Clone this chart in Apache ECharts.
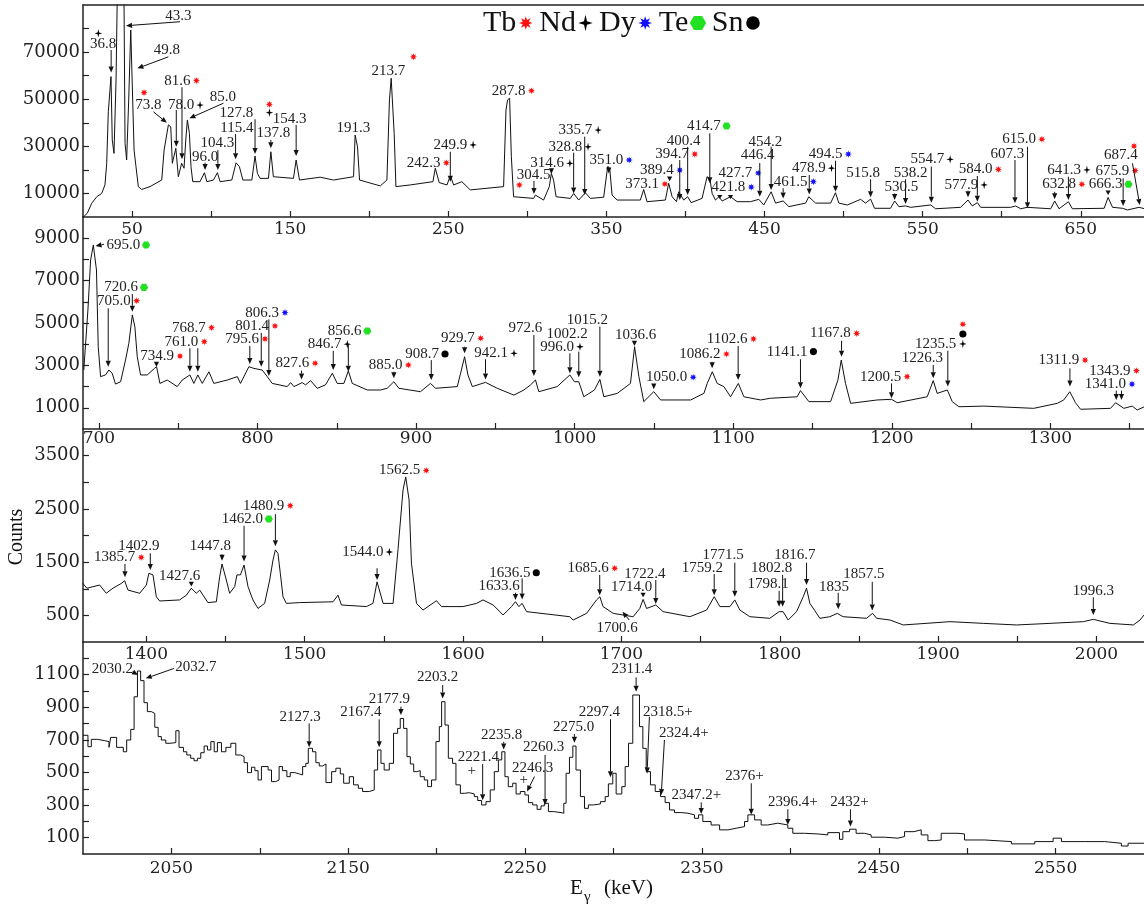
<!DOCTYPE html>
<html lang="en">
<head>
<meta charset="UTF-8">
<title>gamma spectrum</title>
<script src="https://cdn.jsdelivr.net/npm/echarts@6/dist/echarts.min.js"></script>
<style>
  html, body { margin: 0; padding: 0; background: #fff; }
  #chart { width: 1144px; height: 905px; }
</style>
</head>
<body>
<div id="chart"></div>
<script>
// spectrum readings, [E (keV), counts]
var spec1 = [[19.2,0],[21.7,1570],[24.5,5800],[27.7,8600],[30.8,10000],[32.9,13600],[34,22800],[35,44700],[36.7,59600],[37.5,32700],[38.6,27000],[39.9,58200],[40.7,95000],[44.9,95000],[45.6,31300],[46.6,24200],[47.9,49700],[49.2,79400],[50.4,79400],[51.3,28400],[52.5,21400],[54,12900],[56.1,11700],[61.4,12900],[68.8,15700],[70.3,28400],[73,39100],[74.5,38300],[75.5,22800],[77.7,29200],[79.3,17100],[81.4,22800],[82.9,20700],[84,32700],[85,41200],[86.3,35500],[87.3,21400],[88.4,15000],[93,15000],[95.8,18800],[97.3,15000],[101.5,15700],[104,18800],[105.7,15000],[113.1,15700],[115.8,23000],[117.9,21400],[120.1,15700],[125.8,15700],[127.8,25900],[129.3,18500],[131,16400],[136.3,16400],[137.8,27700],[139.4,17100],[152.1,16400],[153.8,24200],[155.9,15700],[169,16900],[177.4,15700],[190.1,17100],[191.1,34800],[192.6,29800],[193.9,15700],[207,13200],
  [211.2,15700],[212.8,49700],[213.9,58900],[215,58200],[215.8,35500],[216.9,12900],[225.9,13600],[240.3,15000],[241.8,20700],[242.8,20000],[244.3,14600],[249.2,13600],[251.3,17500],[253.4,13600],[258.6,15000],[263.9,11500],[285,12900],[286.5,45400],[287.5,49700],[288.8,50400],[289.9,25600],[291.3,8600],[304,7900],[305.1,9300],[310.3,7200],[313.9,12900],[315.2,18500],[316.6,15700],[318.2,8600],[327.2,7900],[329.3,10000],[332.5,7200],[336.7,10300],[339.9,7900],[348.3,8400],[350.8,21400],[352.1,20700],[353.6,9300],[356.8,7200],[371.5,7200],[373.6,11700],[375.7,6500],[387.3,7200],[389.4,14300],[391.6,8600],[394.3,6500],[395.7,10700],[398.9,7200],[401.4,8600],[403.6,6100],[410.5,7900],[413.7,17100],[415.4,16400],[416.9,10000],[419,7200],[421.1,8600],[423.2,6800],[428.5,8600],[432.7,6500],[441.1,6500],
  [446.4,7500],[449.5,5100],[454.2,10700],[457,5900],[461.8,6800],[465.4,4400],[476,5900],[478,8600],[480.2,7200],[482.3,5900],[491.8,5900],[494.9,10300],[497,5900],[502.3,5100],[510.8,7500],[513.9,5900],[517.1,7600],[519.6,3700],[529.7,3700],[532.3,6800],[535,4400],[539.2,4700],[542.4,4100],[555.1,5100],[558.2,3500],[574,4100],[578.7,7200],[581.4,4700],[584.6,6100],[586.7,4100],[605.7,4100],[608.8,4700],[612,3500],[616.2,4100],[631,3500],[633.5,6800],[636.3,3500],[642.2,6500],[644.7,3500],[664.8,3700],[667.3,8300],[670.1,4100],[676.4,3700],[679.6,3000],[686.9,4100],[690.5,3500]];

var spec2 = [[690.5,2780],[693.1,5610],[694.8,7970],[696.5,8680],[697.7,8680],[698.5,7500],[699.6,3880],[701.1,2470],[704.2,2550],[706.3,2780],[708.4,2630],[710.5,2120],[713.7,2230],[716.8,3250],[718.9,4040],[721.1,5380],[722.7,4820],[724.2,3410],[726.3,2550],[730.5,2550],[735.1,2860],[736.4,2940],[738.5,2150],[743.1,2310],[749.4,2000],[752.6,2310],[757.4,2550],[759.9,2150],[762.4,2550],[765.2,2150],[769.4,2700],[772.5,2150],[781,2310],[787.3,2470],[789.3,2150],[794.6,2940],[797.7,2860],[803,2780],[806.2,2470],[809.3,2150],[818.8,2000],[820.9,2190],[823,2000],[828.2,2190],[830.3,2080],[833.5,2280],[837.7,1920],[842.9,2080],[847.2,2630],[850.3,2150],[854.5,2150],[857.3,2740],[859.8,2150],[869.2,1840],[877.6,1840],
  [881.8,1920],[886,2230],[889.2,1920],[902.8,1760],[909.1,2150],[912.3,1920],[926,2000],[928.1,2630],[930.6,3410],[932.7,2550],[935.5,2000],[943.8,2200],[951.2,1920],[961.7,1600],[968,1840],[972.2,2080],[975.3,2310],[977.4,1760],[989,2000],[997,2550],[999.9,2230],[1002.6,2230],[1005.8,1520],[1012.5,1840],[1015.9,2340],[1018.4,1520],[1026.9,1680],[1035.2,2150],[1037.8,3880],[1040.5,2470],[1043.6,1290],[1049.9,1760],[1054.2,1370],[1073.1,1370],[1081.5,1680],[1083.6,2150],[1086.8,2700],[1089.9,2150],[1094.1,2000],[1098.3,1520],[1103.2,2150],[1106.7,1520],[1117.2,1370],
  [1123.5,1450],[1140.3,1520],[1142.4,1810],[1147.7,1290],[1161.4,1290],[1166,2310],[1168.1,3250],[1170.8,2150],[1174,1210],[1190.8,1370],[1199.8,1400],[1203.4,1240],[1222.3,1520],[1226.1,2280],[1228.6,1680],[1235,1840],[1238.1,1290],[1242.3,1050],[1258,1080],[1289.5,975],[1304.3,1210],[1308.4,1370],[1312.2,1760],[1315.8,1240],[1319,930],[1337.9,975],[1341.1,1240],[1346.3,975],[1351.6,1080],[1354.7,896],[1359.3,1050]];

var spec3 = [[1359.9,1100],[1362.5,1010],[1370.5,1070],[1374.7,915],[1378.9,1010],[1384.2,1100],[1386.3,1150],[1388.4,975],[1395.8,915],[1400,1070],[1401.6,1290],[1404.2,1260],[1406.3,850],[1408.4,770],[1421,790],[1425.3,880],[1428.4,1010],[1431.6,915],[1433.7,975],[1435.8,880],[1438.9,740],[1444.2,755],[1446.3,1225],[1447.8,1465],[1450.5,1165],[1452.6,915],[1455.8,1040],[1457.2,1260],[1459.4,1260],[1461.7,1445],[1464.2,1040],[1467.3,790],[1470.5,630],[1474.7,725],[1477.9,1165],[1480,1540],[1481.5,1730],[1483.1,1665],[1484.6,1290],[1486.3,850],[1488.4,725],[1496.8,740],[1517.9,755],[1521,880],[1523.2,695],[1539,665],[1543.1,725],[1545.7,1130],
  [1549.5,725],[1555.8,725],[1558.9,1730],[1562.1,2855],[1563.8,3100],[1565.9,2670],[1567.4,1480],[1570.6,725],[1574.7,600],[1583.2,775],[1586.4,665],[1600,665],[1608.5,725],[1612.6,790],[1619,695],[1625.3,507],[1630.6,665],[1633.1,757],[1635.2,665],[1637.3,725],[1640.1,570],[1667.4,475],[1669.5,413],[1678,538],[1684.3,790],[1686.4,850],[1688.4,665],[1694.8,538],[1707.4,475],[1711.6,630],[1713.7,800],[1715.9,630],[1721.7,695],[1726.3,570],[1743.2,475],[1753.8,600],[1758.6,850],[1762.2,665],[1768.5,665],[1771.6,790],[1774.8,600],[1781.1,475],
  [1793.7,445],[1799.6,570],[1802.1,570],[1805.3,413],[1810.6,570],[1814.8,850],[1816.9,1010],[1819,725],[1822.2,585],[1825.3,445],[1831.6,475],[1836.3,538],[1840,475],[1854.8,445],[1858.6,538],[1861.2,445],[1869.6,413],[1878,320],[1907.5,382],[1928.5,350],[1949.6,320],[1970.6,350],[1991.7,382],[1998,425],[2008.5,350],[2023.3,320],[2027.5,413],[2030,507]];

var spec4 = [[2000,728],[2002.8,658],[2004.7,703],[2008.1,695],[2012.3,689],[2014.7,654],[2015.7,715],[2019,654],[2022.8,627],[2024.7,699],[2027,764],[2028.9,964],[2030.8,1122],[2032.6,1063],[2034.5,928],[2036.4,873],[2038.7,862],[2040.6,777],[2042.5,720],[2044.3,699],[2046.8,679],[2049.2,683],[2052.5,756],[2054.3,654],[2056.8,627],[2058.7,607],[2060.9,587],[2062.8,572],[2064.7,587],[2066.6,621],[2068.5,662],[2070.4,638],[2072.3,689],[2074.2,627],[2076,683],[2078.3,627],[2080.8,654],[2083.6,679],[2086.4,607],[2089.2,597],[2091.1,560],[2093,499],[2095.3,532],[2097.2,511],[2099,454],[2100.9,536],[2104.7,515],[2106.6,444],[2109,454],[2110.9,536],[2112.8,511],[2115.3,474],[2117.2,499],[2119.8,491],[2122.3,485],[2124.2,536],[2126,556],[2127.4,648],[2129.8,627],[2131.7,560],[2133.6,540],[2135.5,552],[2137.4,438],[2140.6,505],[2143,526],[2145.5,491],[2147.4,434],[2150.6,474],[2153,424],[2155.7,403],[2158.1,383],[2161.9,393],[2164.7,515],[2166.6,638],[2168.5,556],[2170.3,515],[2173.2,556],[2175.6,740],[2177.9,770],[2179.4,831],[2181.3,770],[2183.2,597],[2185.1,552],[2187,505],[2188.8,511],[2190.7,474],[2193,454],[2194.9,413],[2197.1,454],[2199.6,689],[2201.5,781],[2202.8,934],[2204.7,791],[2206.6,587],[2209,556],[2210.9,424],[2213.4,372],[2215.6,376],[2218.5,368],[2221.3,352],[2223.2,328],[2225.4,301],[2227.9,321],[2230.3,393],[2232.6,505],[2234.9,577],[2236.8,627],[2238.6,474],[2240.5,413],[2243,434],[2244.9,368],[2247.3,383],[2249.9,362],[2251.9,315],[2254.3,301],[2256.8,274],[2259,295],[2260.9,311],[2263.2,260],[2266.2,254],[2270.3,250],[2271.9,311],[2273.2,495],[2275.1,593],[2277,662],[2278.8,515],[2281.3,352],[2283.6,280],[2285.8,301],[2288.8,307],[2292.6,321],[2295.3,352],[2297.1,430],[2299.6,495],[2301.5,368],[2304.7,413],[2306.6,536],[2308.5,679],[2310.9,975],[2314.7,781],[2316.6,648],[2318.5,505],[2320.9,424],[2323.6,383],[2326.6,352],[2329.2,315],[2331.7,270],[2334.5,254],[2338.3,250],[2342.1,240],[2345.8,219],[2348.1,240],[2350.5,199],[2355.2,178],[2360,148],[2364.7,158],[2369.4,168],[2374.1,199],[2376,240],[2379.8,209],[2383.5,178],[2387.2,189],[2392.9,178],[2398.6,158],[2401.4,127],[2408,123],[2415.5,117],[2421.2,131],[2427.8,90],[2429.7,137],[2433.5,152],[2437.2,127],[2442,117],[2445.7,103],[2453.3,97],[2460.8,107],[2464.6,137],[2469.9,148],[2474,117],[2477.8,82],[2481.6,86],[2485.3,127],[2494.8,123],[2498.5,86],[2509.9,76],[2525,62],[2538.2,76],[2548.6,97],[2553.3,76],[2566.5,76],[2577.8,66],[2587.2,49],[2591,66],[2600.8,76]];

// peak labels: [text, markers after text, label E, label counts, arrow tail E, tail counts, arrow tip E, tip counts]
// markers: t = Tb, n = Nd, y = Dy, e = Te, s = Sn
var peaks1 = [
  ['36.8','',31.8,73300,36.8,70900,36.8,61300],
  ['43.3','',79.3,85500,80.4,82900,46.2,81200],
  ['49.8','',72,70900,73,68000,53.4,63100],
  ['73.8','',60.3,47500,63.5,44700,72,40000],
  ['78.0','n',81,47500,78,45400,78,29800],
  ['81.6','t',78.7,57900,81.6,55100,81.6,24500],
  ['85.0','',107.4,51100,107.8,48300,86.3,41900],
  ['96.0','',96.2,25600,96.2,23000,96.2,20000],
  ['104.3','',104,31300,104.3,28400,104.3,20000],
  ['115.4','',116.3,37700,115.5,35200,115.5,24500],
  ['127.8','',116,44300,127.8,41500,127.8,26700],
  ['137.8','',139.4,35500,137.8,32700,137.8,29200],
  ['154.3','',149.6,41500,153.8,39100,153.8,25900],
  ['191.3','',190,37900,null,null,null,null],
  ['213.7','',212.2,62100,null,null,null,null],
  ['242.3','t',234.4,23000,null,null,null,null],
  ['249.9','n',251.3,30600,251.3,27700,251.3,15000],
  ['287.8','t',288.2,53600,null,null,null,null],
  ['304.5','',304,17800,304.2,15300,304.2,9800],
  ['314.6','n',312.5,22800,315.2,20700,315.2,18300],
  ['328.8','n',324,29800,329.3,27300,329.3,10000],
  ['335.7','n',330.4,36900,336.3,34100,336.3,9300],
  ['351.0','y',350,24200,351.5,21400,351.5,18500],
  ['373.1','t',372.6,14000,null,null,null,null],
  ['389.4','y',382,19900,390,17200,390,15200],
  ['394.7','t',391.5,26700,396.4,24200,396.4,7200],
  ['400.4','',398.9,32400,401.4,29800,401.4,9300],
  ['414.7','e',411.6,38600,415.4,35500,415.4,14300],
  ['421.8','y',427.2,12700,421.7,9300,421.7,7600],
  ['427.7','y',431.6,18700,428.5,9300,428.5,7600],
  ['446.4','',445.6,26300,447,22900,447,8600],
  ['454.2','',450.6,32000,454.2,29800,454.2,11500],
  ['461.5','y',466.5,15000,461.8,12200,461.8,7900],
  ['478.9','n',478,20700,478.3,17800,478.3,9600],
  ['494.5','y',488.6,26700,494.9,23900,494.9,10700],
  ['515.8','',512.4,18800,517.1,16000,517.1,8400],
  ['530.5','',536.5,12600,532.3,10000,532.3,7200],
  ['538.2','',542.4,18800,539.2,16000,539.2,5500],
  ['554.7','n',553,24500,555.5,21400,555.5,6100],
  ['577.9','n',574.5,13600,578.7,11200,578.7,8400],
  ['584.0','t',583.5,20200,584.6,17400,584.6,6500],
  ['607.3','',603.6,26700,608.4,24200,608.4,5800],
  ['615.0','t',611,33000,616.3,29800,616.3,3700],
  ['632.8','t',636.3,13900,633.5,10700,633.5,7500],
  ['641.3','n',639.5,20000,642.2,17100,642.2,7200],
  ['666.3','e',665.8,13900,667.3,11200,667.3,9300],
  ['675.9','t',670,19700,676.8,16400,676.8,4700],
  ['687.4','',675.3,26300,682.7,22800,687.3,5100]
];
var peaks2 = [
  ['695.0','e',715.4,8680,703.2,8710,697.9,8630],
  ['720.6','e',714.1,6680,721.1,6370,721.1,5530],
  ['705.0','t',709.5,6050,705.9,5690,705.9,2940],
  ['734.9','t',736.8,3440,736.3,3170,736.3,2940],
  ['761.0','t',752.1,4120,757.4,3810,757.4,2700],
  ['768.7','t',756.7,4780,762.4,3810,762.4,2700],
  ['795.6','t',790.4,4250,795.2,3920,795.2,3070],
  ['801.4','t',796.7,4860,802.4,4540,802.4,2940],
  ['806.3','y',803,5490,807.2,5170,807.2,2500],
  ['827.6','t',822,3100,827.8,2750,827.8,2340],
  ['846.7','n',842.3,4000,847.8,3690,847.8,2780],
  ['856.6','e',854.9,4620,857.3,3960,857.3,2700],
  ['885.0','t',880.8,3020,886,2700,886,2390],
  ['908.7','s',903.9,3540,909.6,3250,909.6,2310],
  ['929.7','t',926.4,4280,930.6,3880,930.6,3570],
  ['942.1','n',947.4,3570,943.8,3290,943.8,2340],
  ['972.6','',969,4750,974.3,4430,974.3,2500],
  ['1002.2','',995.3,4480,1002.6,3650,1002.6,2440],
  ['996.0','n',989,3880,997,3570,997,2630],
  ['1015.2','',1008,5140,1015.9,4830,1015.9,2470],
  ['1036.6','',1038.4,4430,1037.7,4160,1037.7,3920],
  ['1050.0','y',1058,2440,1049.9,2150,1049.9,1870],
  ['1086.2','t',1079,3540,1086.7,3170,1086.7,2860],
  ['1102.6','t',1096.2,4250,1103.1,3920,1103.1,2310],
  ['1141.1','s',1134,3650,1142.4,3290,1142.4,1920],
  ['1167.8','t',1161.3,4510,1168.3,4160,1168.3,3410],
  ['1200.5','t',1192.9,2470,1199.8,2150,1199.8,1450],
  ['1226.3','',1219.2,3360,1226.1,3020,1226.1,2390],
  ['1235.5','',1227.6,4000,1235.3,3690,1235.3,2000],
  ['1311.9','t',1305.3,3250,1312.3,2860,1312.3,2000],
  ['1343.9','t',1337.5,2750,1344.8,1810,1344.8,1370],
  ['1341.0','y',1334.7,2120,1341.5,1810,1341.5,1370]
];
var peaks3 = [
  ['1385.7','t',1380,1590,1386.5,1465,1386.5,1215],
  ['1402.9','',1395.3,1800,1402.5,1665,1402.5,1350],
  ['1427.6','',1421,1240,1428.4,1130,1428.4,1040],
  ['1447.8','',1440.4,1800,1447.8,1650,1447.8,1525],
  ['1462.0','e',1460.6,2310,1461.7,2180,1461.7,1510],
  ['1480.9','t',1474.1,2560,1481.5,2400,1481.5,1800],
  ['1544.0','n',1536.7,1690,1545.7,1385,1545.7,1165],
  ['1562.5','t',1560,3220,null,null,null,null],
  ['1636.5','s',1629.5,1300,1637.3,1195,1637.3,800],
  ['1633.6','',1622.7,1050,1633.1,925,1633.1,790],
  ['1685.6','t',1679,1385,1686.3,1260,1686.3,880],
  ['1700.6','',1697.3,257,1704.9,413,1700.7,570],
  ['1714.0','',1706.4,1040,1713.7,925,1713.7,840],
  ['1722.4','',1714.8,1280,1721.7,1165,1721.7,715],
  ['1759.2','',1751.2,1395,1758.6,1277,1758.6,880],
  ['1771.5','',1764.3,1630,1771.6,1490,1771.6,850],
  ['1802.8','',1794.8,1385,1801.8,1260,1801.8,660],
  ['1798.1','',1792.7,1090,1799.6,960,1799.6,660],
  ['1816.7','',1809.5,1630,1816.9,1490,1816.9,1070],
  ['1835','',1834.2,1040,1836.9,925,1836.9,615],
  ['1857.5','',1853.1,1277,1858.4,1130,1858.4,590],
  ['1996.3','',1998,965,1998,840,1998,507]
];
var peaks4 = [
  ['2030.2','',2016.6,1132,2027.9,1118,2031.1,1097],
  ['2032.7','',2063.8,1148,2051.5,1138,2035.5,1077],
  ['2127.3','',2122.8,842,2127.9,801,2127.9,654],
  ['2167.4','',2157.2,872,2167.5,826,2167.5,654],
  ['2177.9','',2173.2,948,2179.8,903,2179.8,852],
  ['2203.2','',2200.5,1083,2203.4,1036,2203.4,954],
  ['2221.4','',2223.6,593,2226,552,2226,330],
  ['2235.8','',2236.8,729,2237.9,688,2237.9,641],
  ['2246.3','',2254.3,525,2255.3,475,2251.1,383],
  ['2260.3','',2260.5,654,2261.3,607,2261.3,300],
  ['2275.0','',2277.5,777,2277.9,735,2277.9,682],
  ['2297.4','',2292,872,2298.3,826,2298.3,470],
  ['2311.4','',2310.4,1132,2312.8,1083,2312.8,995],
  ['2318.5+','',2330.7,872,2320.3,842,2319,494],
  ['2324.4+','',2339.8,740,2328.8,699,2327,362],
  ['2347.2+','',2346.8,362,2349.6,317,2349.6,245],
  ['2376+','',2374.1,478,2377.9,434,2377.9,240],
  ['2396.4+','',2401.4,321,2398.6,274,2398.6,178],
  ['2432+','',2433.5,321,2434,274,2434,168]
];
// markers not placed right after a label: [marker, E, counts]
var marks1 = [['n',28.7,78000],['t',57.6,52800],['t',136.9,47800],['n',136.9,44300],['t',228,68000],['t',295,13600],['t',683.7,30100]];
var marks2 = [['n',1244.8,4010],['s',1244.8,4480],['t',1244.8,4940]];
var marks3 = [];
var marks4 = [['+',2219.8,511],['+',2249.2,454]];

// axis ticks and tick labels
var xTicks = [
  [50,100,150,200,250,300,350,400,450,500,550,600,650],
  [700,750,800,850,900,950,1000,1050,1100,1150,1200,1250,1300,1350],
  [1400,1450,1500,1550,1600,1650,1700,1750,1800,1850,1900,1950,2000],
  [2050,2100,2150,2200,2250,2300,2350,2400,2450,2500,2550]
];
var xLabels = [
  [50,150,250,350,450,550,650],
  [700,800,900,1000,1100,1200,1300],
  [1400,1500,1600,1700,1800,1900,2000],
  [2050,2150,2250,2350,2450,2550]
];
var yTicks = [
  [10000,20000,30000,40000,50000,60000,70000,80000],
  [1000,2000,3000,4000,5000,6000,7000,8000,9000],
  [500,1000,1500,2000,2500,3000,3500],
  [100,200,300,400,500,600,700,800,900,1000,1100,1200]
];
var yLabels = [
  [10000,30000,50000,70000],
  [1000,3000,5000,7000,9000],
  [500,1500,2500,3500],
  [100,300,500,700,900,1100]
];
var legendItems = [['Tb','t'],['Nd','n'],['Dy','y'],['Te','e'],['Sn','s']];

var xRange = [[19, 690], [690, 1359], [1360, 2030], [2000, 2600]];
var yMax = [90000, 10000, 4000, 1300];
var gridTop = [5, 217, 429, 642];
var gridH = [212, 212, 213, 212];
var xLabelMargin = [4, 1, 4, 6];

var LABEL_FONT = '15px "Liberation Serif"';
var MARK_R = 3.4;
var COLORS = { t: '#ff1010', n: '#000000', y: '#1010ff', e: '#22e022', s: '#000000' };

var measureCtx = document.createElement('canvas').getContext('2d');
function textWidth(t, font) {
    measureCtx.font = font;
    return measureCtx.measureText(t).width;
}
function plainNumber(v) { return String(v); }

function starPoints(cx, cy, n, ro, ri, yScale) {
    var pts = [];
    for (var k = 0; k < 2 * n; k++) {
        var a = -Math.PI / 2 + k * Math.PI / n;
        var r = (k % 2 === 0) ? ro : ri;
        pts.push([cx + r * Math.cos(a), cy + r * Math.sin(a) * (yScale || 1)]);
    }
    return pts;
}

function markerEl(code, cx, cy, r, font) {
    if (code === 's') {
        return {type: 'circle', shape: {cx: cx, cy: cy, r: r * 1.05}, style: {fill: '#000'}};
    }
    if (code === 'e') {
        var hex = [];
        for (var k = 0; k < 6; k++) {
            var a = k * Math.PI / 3;
            hex.push([cx + r * 1.2 * Math.cos(a), cy + r * 1.2 * Math.sin(a)]);
        }
        return {type: 'polygon', shape: {points: hex}, style: {fill: COLORS.e}};
    }
    if (code === 'n') {
        return {type: 'polygon', shape: {points: starPoints(cx, cy, 4, r * 1.1, r * 0.32, 1.15)}, style: {fill: '#000'}};
    }
    if (code === '+') {
        return {type: 'text', x: cx, y: cy, style: {text: '+', font: font, fill: '#222',
            align: 'center', verticalAlign: 'middle', textAlign: 'center', textVerticalAlign: 'middle'}};
    }
    return {type: 'polygon', shape: {points: starPoints(cx, cy, 8, r * 1.05, r * 0.5)}, style: {fill: COLORS[code]}};
}

function arrowEls(a, b) {
    var dx = b[0] - a[0], dy = b[1] - a[1];
    var len = Math.sqrt(dx * dx + dy * dy) || 1;
    var ux = dx / len, uy = dy / len;
    var hl = Math.min(6, len), hw = 2.6;
    var bx = b[0] - ux * hl, by = b[1] - uy * hl;
    return [
        {type: 'line', shape: {x1: a[0], y1: a[1], x2: bx, y2: by}, style: {stroke: '#111', lineWidth: 1}},
        {type: 'polygon', shape: {points: [[b[0], b[1]], [bx - uy * hw, by + ux * hw], [bx + uy * hw, by - ux * hw]]},
            style: {fill: '#111'}}
    ];
}

function peakSeries(i, rows) {
    return {
        type: 'custom', xAxisIndex: i, yAxisIndex: i, z: 5, silent: true,
        data: rows.map(function (r) { return [r[2], r[3]]; }),
        renderItem: function (params, api) {
            var r = rows[params.dataIndex];
            var lab = api.coord([r[2], r[3]]);
            var children = [{type: 'text', x: lab[0], y: lab[1], style: {text: r[0], font: LABEL_FONT, fill: '#222',
                align: 'center', verticalAlign: 'middle', textAlign: 'center', textVerticalAlign: 'middle'}}];
            var mx = lab[0] + textWidth(r[0], LABEL_FONT) / 2 + 2.5 + MARK_R;
            for (var k = 0; k < r[1].length; k++) {
                children.push(markerEl(r[1][k], mx, lab[1], MARK_R, LABEL_FONT));
                mx += 2 * MARK_R + 2;
            }
            if (r[4] != null) {
                children = children.concat(arrowEls(api.coord([r[4], r[5]]), api.coord([r[6], r[7]])));
            }
            return {type: 'group', children: children};
        }
    };
}

function markSeries(i, rows) {
    return {
        type: 'custom', xAxisIndex: i, yAxisIndex: i, z: 5, silent: true,
        data: rows.map(function (r) { return [r[1], r[2]]; }),
        renderItem: function (params, api) {
            var r = rows[params.dataIndex];
            var p = api.coord([r[1], r[2]]);
            return markerEl(r[0], p[0], p[1], MARK_R, LABEL_FONT);
        }
    };
}

var grids = [], xAxes = [], yAxes = [], series = [];
var specs = [spec1, spec2, spec3, spec4];
var peaks = [peaks1, peaks2, peaks3, peaks4];
var marks = [marks1, marks2, marks3, marks4];
for (var i = 0; i < 4; i++) {
    grids.push({left: 83, right: 0, top: gridTop[i], height: gridH[i]});
    xAxes.push({
        type: 'value', gridIndex: i, min: xRange[i][0], max: xRange[i][1],
        axisLine: {show: true, onZero: false, lineStyle: {color: '#222', width: 1.5}},
        axisTick: {show: true, inside: true, length: 6, customValues: xTicks[i], lineStyle: {color: '#222', width: 1.2}},
        axisLabel: {customValues: xLabels[i], formatter: plainNumber, margin: xLabelMargin[i],
            fontFamily: 'DejaVu Serif', fontSize: 17, color: '#222'},
        splitLine: {show: false}
    });
    yAxes.push({
        type: 'value', gridIndex: i, min: 0, max: yMax[i],
        axisLine: {show: true, onZero: false, lineStyle: {color: '#222', width: 1.5}},
        axisTick: {show: true, inside: true, length: 6, customValues: yTicks[i], lineStyle: {color: '#222', width: 1.2}},
        axisLabel: {customValues: yLabels[i], formatter: plainNumber, margin: 3,
            fontFamily: 'DejaVu Serif', fontSize: 18, color: '#222'},
        splitLine: {show: false}
    });
    series.push({
        type: 'line', xAxisIndex: i, yAxisIndex: i, data: specs[i], showSymbol: false, silent: true,
        step: i === 3 ? 'end' : false, clip: true,
        lineStyle: {color: '#111', width: 1}
    });
    series.push(peakSeries(i, peaks[i]));
    series.push(markSeries(i, marks[i]));
}
// top frame line of the first panel
xAxes.push({
    type: 'value', gridIndex: 0, position: 'top', min: xRange[0][0], max: xRange[0][1],
    axisLine: {show: true, onZero: false, lineStyle: {color: '#222', width: 1.5}},
    axisTick: {show: false}, axisLabel: {show: false}, splitLine: {show: false}
});

// legend row and axis titles
var graphics = [];
var lx = 483, ly = 23, LEG_FONT = '30px "Liberation Serif"';
legendItems.forEach(function (it) {
    graphics.push({type: 'text', x: lx, y: ly, style: {text: it[0], font: LEG_FONT, fill: '#111',
        align: 'left', verticalAlign: 'middle', textAlign: 'left', textVerticalAlign: 'middle'}});
    lx += textWidth(it[0], LEG_FONT) + 3;
    var r = it[1] === 'e' ? 6.8 : 6.5;
    graphics.push(markerEl(it[1], lx + r, ly, r, LEG_FONT));
    lx += 2 * r + 7;
});
graphics.push({type: 'text', x: 17, y: 537, rotation: Math.PI / 2,
    style: {text: 'Counts', font: '20px "Liberation Serif"', fill: '#111',
        align: 'center', verticalAlign: 'middle', textAlign: 'center', textVerticalAlign: 'middle'}});
graphics.push({type: 'text', x: 570, y: 888, style: {text: 'E', font: '21px "Liberation Serif"', fill: '#111',
    align: 'left', verticalAlign: 'middle', textAlign: 'left', textVerticalAlign: 'middle'}});
graphics.push({type: 'text', x: 584, y: 897, style: {text: 'γ', font: '15px "Liberation Serif"', fill: '#111',
    align: 'left', verticalAlign: 'middle', textAlign: 'left', textVerticalAlign: 'middle'}});
graphics.push({type: 'text', x: 604, y: 888, style: {text: '(keV)', font: '21px "Liberation Serif"', fill: '#111',
    align: 'left', verticalAlign: 'middle', textAlign: 'left', textVerticalAlign: 'middle'}});

var chart = echarts.init(document.getElementById('chart'));
chart.setOption({
    animation: false,
    backgroundColor: '#fff',
    grid: grids,
    xAxis: xAxes,
    yAxis: yAxes,
    series: series,
    graphic: graphics
});
</script>
</body>
</html>
